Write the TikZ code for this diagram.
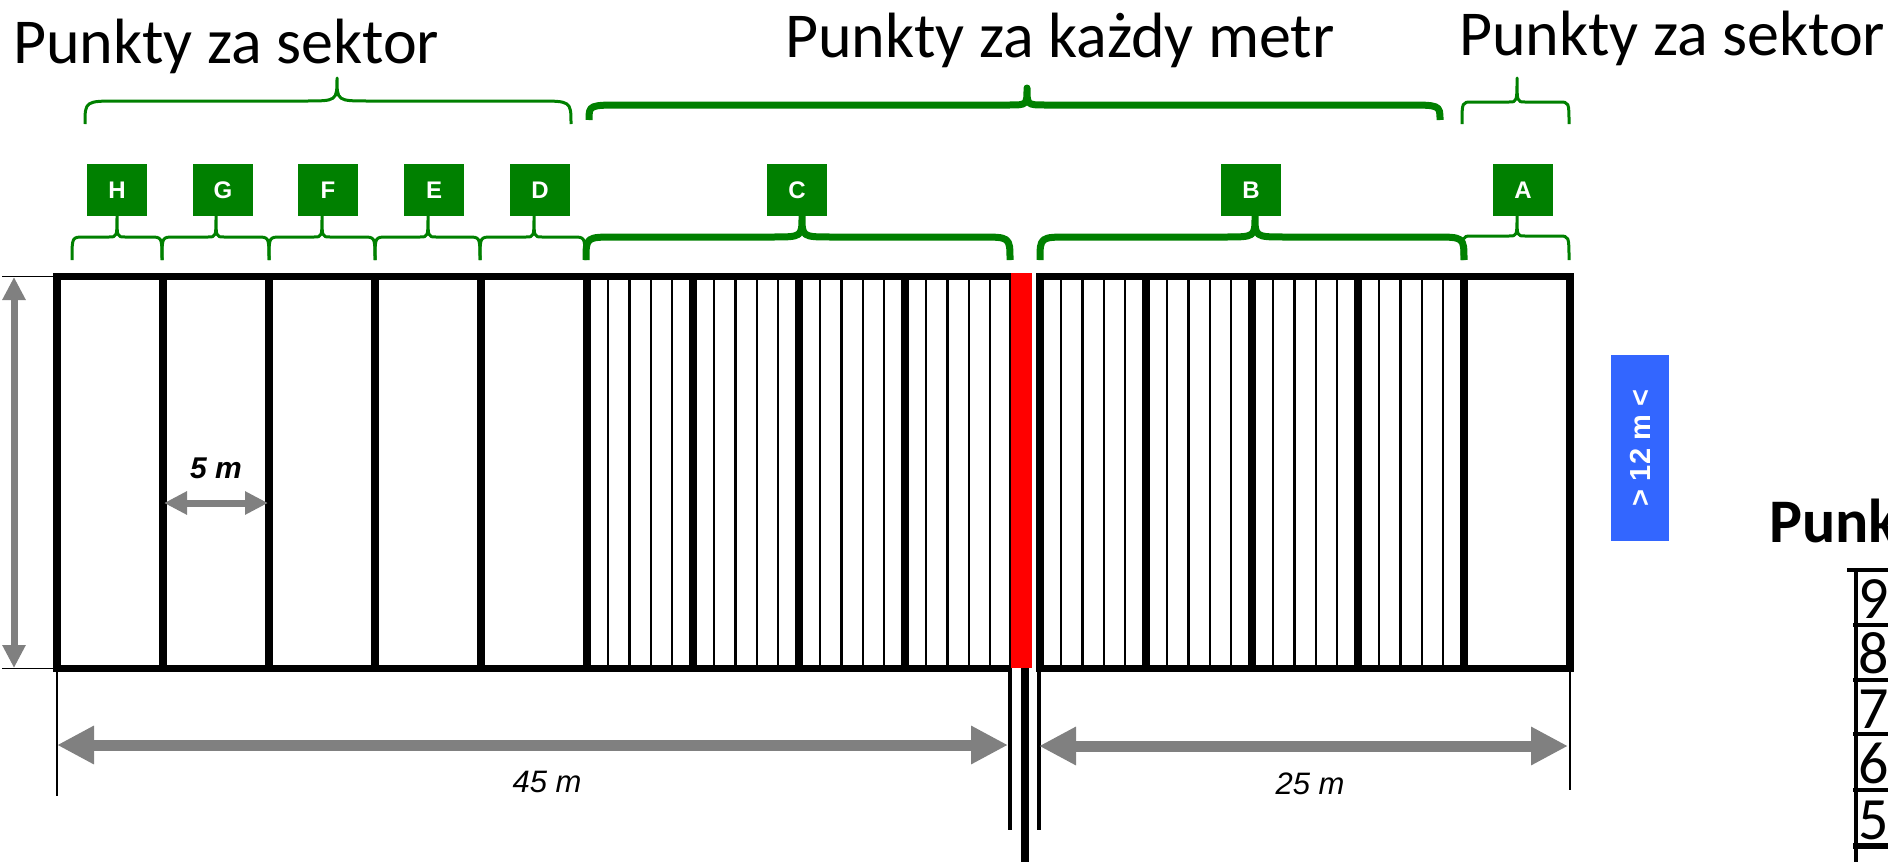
\documentclass[tikz,border=0pt]{standalone}
\usepackage{fontspec}
\setmainfont{Carlito}
\newfontfamily\arialf{Liberation Sans}
\usetikzlibrary{arrows.meta}
\definecolor{gr}{RGB}{0,128,0}
\definecolor{bl}{RGB}{51,102,255}
\definecolor{gy}{RGB}{128,128,128}
% #1 style, #2 x1, #3 x2, #4 xtip, #5 yend, #6 yh, #7 ytip, #8 rx, #9 rt
\newcommand\gbrace[9]{%
  \draw[#1] (#2,#5) .. controls (#2,#6) .. (#2+#8,#6) -- (#4-#9,#6)
    .. controls (#4,#6) .. (#4,#7) .. controls (#4,#6) .. (#4+#9,#6)
    -- (#3-#8,#6) .. controls (#3,#6) .. (#3,#5);}
\tikzset{
  thickln/.style={line width=7.5pt, line join=miter},
  thinln/.style={line width=2.2pt},
  gthin/.style={draw=gr, line width=3pt, line join=round},
  gthick/.style={draw=gr, line width=7pt, line join=round},
  ext/.style={black, line width=1.5pt},
  lbox/.style={fill=gr, minimum width=60pt, minimum height=52pt, inner sep=0pt,
    text=white, font=\arialf\bfseries\fontsize{24}{24}\selectfont},
  title/.style={anchor=base west, inner sep=0pt, font=\fontsize{64}{64}\selectfont},
  digit/.style={anchor=base west, inner sep=0pt, font=\fontsize{60}{50}\selectfont},
  dimlbl/.style={inner sep=0pt, font=\arialf\itshape\fontsize{31}{31}\selectfont},
  arrs/.style={gy, line width=7pt, arrows={Triangle[length=23pt,width=22pt]-Triangle[length=23pt,width=22pt]}},
  arrl/.style={gy, line width=11pt, arrows={Triangle[length=37pt,width=36pt]-Triangle[length=37pt,width=36pt]}},
  tline/.style={black, line width=4pt}
}
\begin{document}
\begin{tikzpicture}[x=1pt,y=-1pt]
\useasboundingbox (0,0) rectangle (1888,862);
% titles
\node[title] (t1) at (13,63) {Punkty za sektor};
\node[title] (t2) at (785,57) {Punkty za każdy metr};
\node[title] (t3) at (1459,55) {Punkty za sektor};
% top braces
\gbrace{gthin}{85}{571}{337}{124}{101}{78}{34}{32}
\gbrace{gthick}{589}{1440}{1027}{120}{105}{88}{35}{18}
\gbrace{gthin}{1462}{1569}{1517}{124}{102}{78}{10}{8}
% letter boxes
\node[lbox] (H) at (117,190) {H};
\node[lbox] (G) at (223,190) {G};
\node[lbox] (F) at (328,190) {F};
\node[lbox] (E) at (434,190) {E};
\node[lbox] (D) at (540,190) {D};
\node[lbox] (C) at (797,190) {C};
\node[lbox] (B) at (1251,190) {B};
\node[lbox] (A) at (1523,190) {A};
% small braces
\gbrace{gthin}{72}{162}{117}{260}{237}{216}{12}{8}
\gbrace{gthin}{162}{269}{216}{260}{237}{216}{12}{8}
\gbrace{gthin}{269}{375}{322}{260}{237}{216}{12}{8}
\gbrace{gthin}{375}{480}{428}{260}{237}{216}{12}{8}
\gbrace{gthin}{480}{585}{534}{260}{237}{216}{12}{8}
\gbrace{gthick}{586}{1010}{802}{260}{237}{216}{30}{30}
\gbrace{gthick}{1040}{1464}{1255}{260}{237}{216}{30}{30}
\gbrace{gthin}{1462}{1569}{1517}{260}{236}{216}{10}{8}
% thin meter lines
\foreach \b in {0,5,10,15}{\foreach \j in {1,2,3,4}{
  \draw[thinln] ({587+(\b+\j)*21.2},276.5) -- ++(0,392);
  \draw[thinln] ({1040+(\b+\j)*21.2},276.5) -- ++(0,392);}}
\draw[thinln] (1010,276.5) -- ++(0,392);
% left field
\draw[thickln] (1011,276.5) -- (57,276.5) -- (57,668.5) -- (1011,668.5);
\foreach \k in {1,...,8}{\draw[thickln] ({57+5*\k*21.2},276.5) -- ++(0,392);}
% right field
\draw[thickln] (1040,276.5) rectangle (1570,668.5);
\foreach \k in {1,...,4}{\draw[thickln] ({1040+5*\k*21.2},276.5) -- ++(0,392);}
% red line and post
\fill[red] (1011,273) rectangle (1032,668);
\draw[black, line width=8pt] (1025,668) -- (1025,862);
\draw[black, line width=3.5pt] (1010,668) -- (1010,830);
\draw[black, line width=3.5pt] (1039,668) -- (1039,830);
% extension lines
\draw[ext] (57,672) -- (57,796);
\draw[ext] (1570,672) -- (1570,790);
\draw[ext] (2,276.5) -- (53,276.5);
\draw[ext] (2,668.5) -- (53,668.5);
% dimension arrows
\draw[arrs] (14,277) -- (14,668);
\draw[arrs] (164,503) -- (268,503);
\node[inner sep=0pt, font=\arialf\bfseries\itshape\fontsize{30}{30}\selectfont] (l5) at (216,468) {5 m};
\draw[arrl] (57,745) -- (1008,745);
\draw[arrl] (1039,746) -- (1568,746);
\node[dimlbl] (l45) at (547,782) {45 m};
\node[dimlbl] (l25) at (1310,784) {25 m};
% blue box
\node[fill=bl, rotate=90, minimum width=186pt, minimum height=58pt, inner sep=0pt,
  text=white, font=\arialf\bfseries\fontsize{29}{29}\selectfont] (bb) at (1640,448) {> 12 m <};
% right cut-off table
\node[anchor=base west, inner sep=0pt, font=\bfseries\fontsize{62}{62}\selectfont] (punk) at (1769,542) {Punk};
\draw[tline] (1847,570) -- (1888,570);
\foreach \yy in {625,680,734,790}{\draw[tline] (1853,\yy) -- (1888,\yy);}
\draw[black, line width=6pt] (1853,846) -- (1888,846);
\draw[tline] (1856,568) -- (1856,862);
\node[digit] (d9) at (1858,618) {9};
\node[digit] (d8) at (1858,673) {8};
\node[digit] (d7) at (1858,728) {7};
\node[digit] (d6) at (1858,783) {6};
\node[digit] (d5) at (1858,839) {5};
\end{tikzpicture}
\end{document}
